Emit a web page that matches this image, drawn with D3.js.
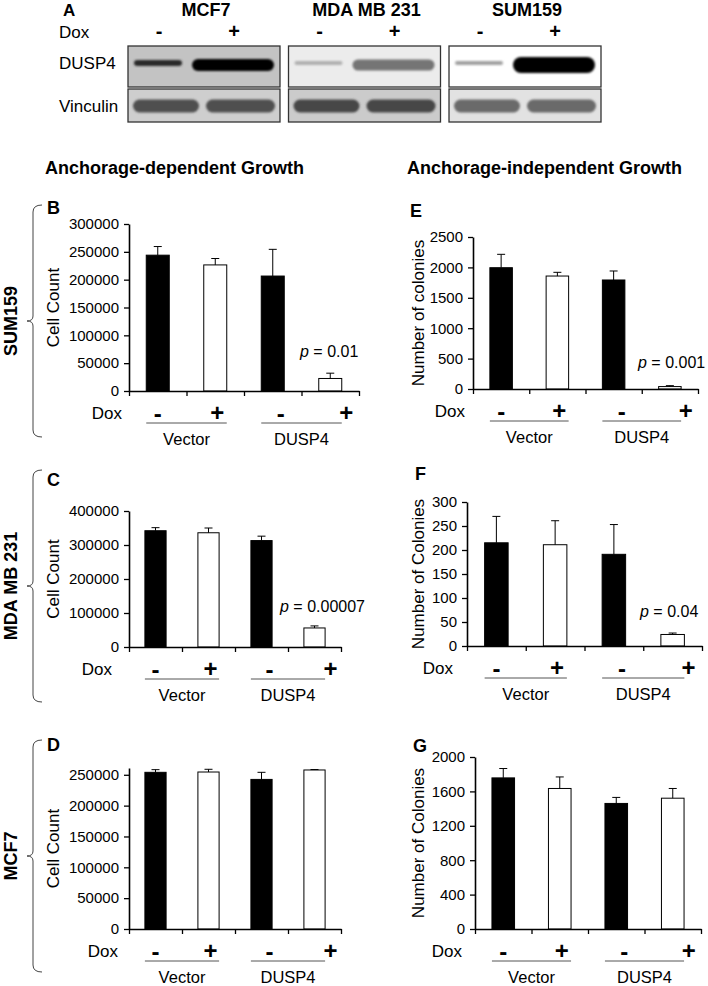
<!DOCTYPE html>
<html>
<head>
<meta charset="utf-8">
<script src="https://cdnjs.cloudflare.com/ajax/libs/d3/7.8.5/d3.min.js"></script>
<style>
body{margin:0;background:#fff;}
svg{display:block;font-family:"Liberation Sans",Arial,sans-serif;}
</style>
</head>
<body>
<svg></svg>
<script>
var width=708;
var height=986;

// ---- panel A : western blot ----
var cellLines=["MCF7","MDA MB 231","SUM159"];
var doxSigns=["-","+"];
var dusp4Level=[[0.83,0.98],[0.31,0.54],[0.37,0.98]];
var vincLevel=[[0.69,0.69],[0.72,0.72],[0.58,0.58]];

// ---- bar panels ----
var groups=["Vector","DUSP4"];
var sumCells=[244000,226500,206500,22500];
var sumCellsErr=[15500,11500,48000,9500];
var mdaCells=[342000,336000,313000,56000];
var mdaCellsErr=[9000,14000,13000,6000];
var mcfCells=[254000,254500,242500,257800];
var mcfCellsErr=[4300,4400,11500,700];
var sumCol=[1995,1858,1793,40];
var sumColErr=[220,61,148,15];
var mdaCol=[215,211,191,24];
var mdaColErr=[55,50,62,3];
var mcfCol=[1757,1634,1460,1521];
var mcfColErr=[109,134,70,113];

var ticksB=[0,50000,100000,150000,200000,250000,300000];
var ticksC=[0,100000,200000,300000,400000];
var ticksD=[0,50000,100000,150000,200000,250000];
var ticksE=[0,500,1000,1500,2000,2500];
var ticksF=[0,50,100,150,200,250,300];
var ticksG=[0,400,800,1200,1600,2000];

var svg=d3.select("svg")
	.attr("width",width)
	.attr("height",height);

svg.append("rect").attr("width",width).attr("height",height).attr("fill","#fff");

var flt=svg.append("defs").append("filter").attr("id","blur")
	.attr("x","-20%").attr("y","-150%").attr("width","140%").attr("height","400%");
flt.append("feGaussianBlur").attr("stdDeviation",1.2);

// ---------- blot ----------
var gray=d3.scaleLinear().domain([0,1]).range(["#ffffff","#000000"]);
var lane=d3.scaleBand().domain(cellLines).range([128,601]).paddingInner(0.053);
var dusp4Bg=["#c3c3c3","#ececec","#ffffff"];
var vincBg=["#cecece","#cbcbcb","#e2e2e2"];
var dusp4H=[[6,12],[4,11],[4,16]];
var dusp4Span=[[6,54],[64,146]];
var vincSpan=[[5,71],[78,147]];

svg.append("text").attr("x",63).attr("y",16).style("font-weight","bold").style("font-size","17px").text("A");
svg.append("text").attr("x",59).attr("y",38).style("font-size","17px").text("Dox");
svg.append("text").attr("x",59).attr("y",69).style("font-size","17px").text("DUSP4");
svg.append("text").attr("x",59).attr("y",112).style("font-size","17px").text("Vinculin");

cellLines.forEach(function(name,i){
	var g=svg.append("g").attr("transform","translate("+lane(name)+",0)");
	var bw=lane.bandwidth();
	g.append("text").attr("x",bw/2+2).attr("y",16).attr("text-anchor","middle")
		.style("font-weight","bold").style("font-size","18px").text(name);
	g.selectAll(".sign").data(doxSigns).enter().append("text")
		.attr("x",(d,j)=>j==0?31:106).attr("y",38)
		.attr("text-anchor","middle").style("font-weight","bold").style("font-size","20px")
		.text(d=>d);
	g.append("rect").attr("x",0).attr("y",46).attr("width",bw).attr("height",41)
		.attr("fill",dusp4Bg[i]).attr("stroke","#333").attr("stroke-width",1.3);
	g.append("rect").attr("x",0).attr("y",89).attr("width",bw).attr("height",33)
		.attr("fill",vincBg[i]).attr("stroke","#333").attr("stroke-width",1.3);
	g.selectAll(".dband").data(dusp4Level[i]).enter().append("rect")
		.attr("x",(d,j)=>dusp4Span[j][0])
		.attr("width",(d,j)=>dusp4Span[j][1]-dusp4Span[j][0])
		.attr("y",(d,j)=>(j==0?63:65)-dusp4H[i][j]/2)
		.attr("height",(d,j)=>dusp4H[i][j])
		.attr("rx",(d,j)=>dusp4H[i][j]/2)
		.attr("fill",d=>gray(d))
		.attr("filter","url(#blur)");
	g.selectAll(".vband").data(vincLevel[i]).enter().append("rect")
		.attr("x",(d,j)=>vincSpan[j][0])
		.attr("width",(d,j)=>vincSpan[j][1]-vincSpan[j][0])
		.attr("y",99.5).attr("height",13).attr("rx",6.5)
		.attr("fill",d=>gray(d))
		.attr("filter","url(#blur)");
});

// ---------- column titles and row braces ----------
svg.append("text").attr("x",45).attr("y",174).style("font-weight","bold").style("font-size","18px")
	.text("Anchorage-dependent Growth");
svg.append("text").attr("x",407).attr("y",174).style("font-weight","bold").style("font-size","18px")
	.text("Anchorage-independent Growth");

var rows=[{top:205,bot:437,name:cellLines[2]},{top:470,bot:702,name:cellLines[1]},{top:740,bot:972,name:cellLines[0]}];
rows.forEach(function(r){
	var x=33,m=(r.top+r.bot)/2;
	svg.append("path")
		.attr("d","M"+(x+9)+","+r.top+" Q"+x+","+r.top+" "+x+","+(r.top+7)+" L"+x+","+(m-5)+" Q"+x+","+m+" "+(x-6)+","+m+
			" Q"+x+","+m+" "+x+","+(m+5)+" L"+x+","+(r.bot-7)+" Q"+x+","+r.bot+" "+(x+9)+","+r.bot)
		.attr("fill","none").attr("stroke","#444").attr("stroke-width",1);
	svg.append("text").attr("transform","translate(11,"+m+") rotate(-90)")
		.attr("text-anchor","middle").attr("dominant-baseline","central")
		.style("font-weight","bold").style("font-size","18px").text(r.name);
});

// ---------- bar panels ----------
var panels=[
	{letter:"B",lx:47,ly:214,vals:sumCells,err:sumCellsErr,ticks:ticksB,top:300000,x0:129,x1:359,yTop:224,yBot:391,ylab:"Cell Count",yl:53,p:"0.01",px:300,py:357,doxX:122},
	{letter:"C",lx:47,ly:486,vals:mdaCells,err:mdaCellsErr,ticks:ticksC,top:400000,x0:129,x1:341,yTop:511,yBot:647,ylab:"Cell Count",yl:53,p:"0.00007",px:280,py:612,doxX:112},
	{letter:"D",lx:47,ly:751,vals:mcfCells,err:mcfCellsErr,ticks:ticksD,top:261000,x0:129,x1:341,yTop:768,yBot:929,ylab:"Cell Count",yl:53,p:null,doxX:118},
	{letter:"E",lx:410,ly:217,vals:sumCol,err:sumColErr,ticks:ticksE,top:2500,x0:473,x1:698,yTop:237,yBot:389,ylab:"Number of colonies",yl:418,p:"0.001",px:638,py:368,doxX:465},
	{letter:"F",lx:415,ly:480,vals:mdaCol,err:mdaColErr,ticks:ticksF,top:300,x0:467,x1:702,yTop:502,yBot:646,ylab:"Number of Colonies",yl:418,p:"0.04",px:640,py:617,doxX:453},
	{letter:"G",lx:413,ly:752,vals:mcfCol,err:mcfColErr,ticks:ticksG,top:2000,x0:475,x1:701,yTop:757,yBot:929,ylab:"Number of Colonies",yl:418,p:null,doxX:462}
];
var signOff=[0,2,8,16];

panels.forEach(drawpanel);

function drawpanel(P)
{
	var g=svg.append("g");
	var scaley=d3.scaleLinear().domain([0,P.top]).range([P.yBot,P.yTop]);
	var scalex=d3.scaleBand().domain([0,1,2,3]).range([P.x0,P.x1]).paddingInner(0.6).paddingOuter(0.3);
	var ticksx=d3.scaleLinear().domain([0,4]).range([P.x0,P.x1]);
	var bw=scalex.bandwidth();

	g.append("text").attr("x",P.lx).attr("y",P.ly).style("font-weight","bold").style("font-size","18px").text(P.letter);

	// bars
	g.selectAll(".bar").data(P.vals).enter().append("rect")
		.attr("x",(d,i)=>scalex(i))
		.attr("y",d=>scaley(d))
		.attr("width",bw)
		.attr("height",d=>P.yBot-scaley(d))
		.attr("fill",(d,i)=>i%2==0?"#000":"#fff")
		.attr("stroke","#000").attr("stroke-width",1);

	// upper error bars
	var eb=g.selectAll(".err").data(P.vals).enter().append("g");
	eb.append("line")
		.attr("x1",(d,i)=>scalex(i)+bw/2).attr("x2",(d,i)=>scalex(i)+bw/2)
		.attr("y1",d=>scaley(d)).attr("y2",(d,i)=>scaley(d+P.err[i]))
		.attr("stroke","#000").attr("stroke-width",1);
	eb.append("line")
		.attr("x1",(d,i)=>scalex(i)+bw/2-4).attr("x2",(d,i)=>scalex(i)+bw/2+4)
		.attr("y1",(d,i)=>scaley(d+P.err[i])).attr("y2",(d,i)=>scaley(d+P.err[i]))
		.attr("stroke","#000").attr("stroke-width",1);

	// axes
	var yaxis=d3.axisLeft(scaley).tickValues(P.ticks).tickSize(5).tickSizeOuter(0).tickPadding(5).tickFormat(d3.format("d"));
	var ya=g.append("g").attr("transform","translate("+P.x0+",0)").call(yaxis);
	var xaxis=d3.axisBottom(ticksx).tickValues([0,1,2,3,4]).tickSize(5).tickSizeOuter(0).tickFormat("");
	var xa=g.append("g").attr("transform","translate(0,"+P.yBot+")").call(xaxis);
	[ya,xa].forEach(function(a){
		a.select(".domain").attr("stroke","#000").attr("stroke-width",1.6);
		a.selectAll(".tick line").attr("stroke","#000").attr("stroke-width",1.3);
	});
	ya.selectAll(".tick text").style("font-size","15px").style("font-family","'Liberation Sans',Arial,sans-serif").attr("fill","#000");

	g.append("text").attr("transform","translate("+P.yl+","+(P.yTop+P.yBot)/2+") rotate(-90)")
		.attr("text-anchor","middle").attr("dominant-baseline","central")
		.style("font-size","17px").text(P.ylab);

	// Dox row
	g.append("text").attr("x",P.doxX).attr("y",P.yBot+28).attr("text-anchor","end").style("font-size","17px").text("Dox");
	g.selectAll(".sign").data(P.vals).enter().append("text")
		.attr("x",(d,i)=>scalex(i)+bw/2+signOff[i]).attr("y",(d,i)=>P.yBot+(i%2==0?31:30))
		.attr("text-anchor","middle").style("font-weight","bold").style("font-size","24px")
		.text((d,i)=>doxSigns[i%2]);

	// group underlines and names
	groups.forEach(function(name,k){
		var a=scalex(2*k),b=scalex(2*k+1)+bw;
		g.append("line").attr("x1",a).attr("x2",b).attr("y1",P.yBot+32).attr("y2",P.yBot+32)
			.attr("stroke","#555").attr("stroke-width",1);
		g.append("text").attr("x",(a+b)/2).attr("y",P.yBot+54).attr("text-anchor","middle")
			.style("font-size","16.5px").text(name);
	});

	if(P.p)
	{
		var t=g.append("text").attr("x",P.px).attr("y",P.py).style("font-size","16px");
		t.append("tspan").style("font-style","italic").text("p");
		t.append("tspan").text(" = "+P.p);
	}
}
</script>
</body>
</html>
